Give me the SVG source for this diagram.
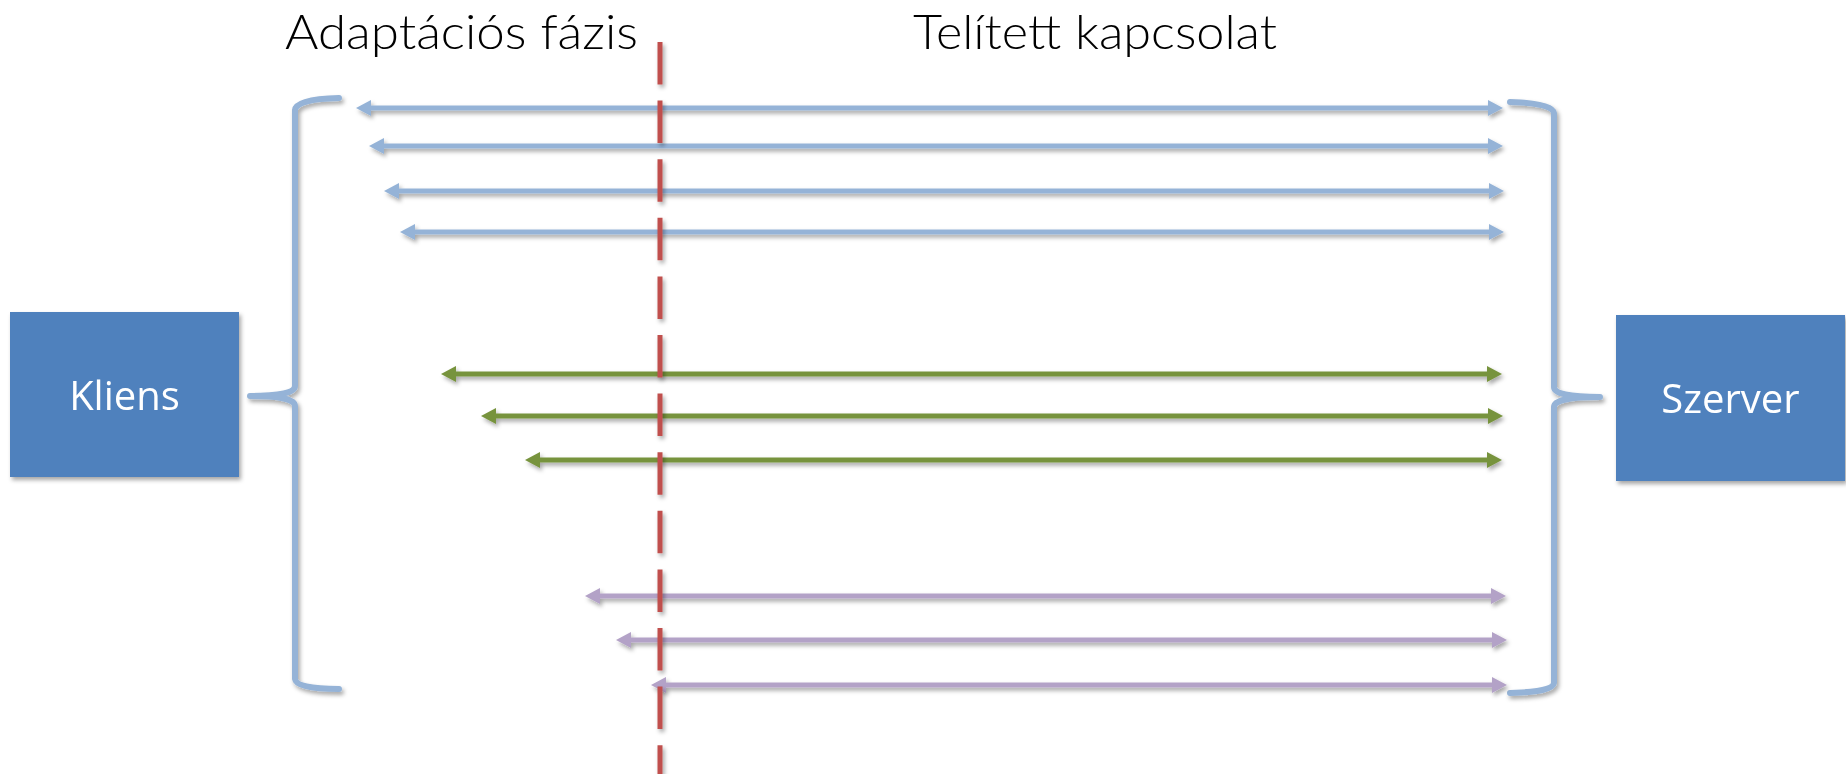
<svg xmlns="http://www.w3.org/2000/svg" width="1846" height="774" viewBox="0 0 1846 774">
  <style>
    .title { font-family: Lato, "Open Sans", "Liberation Sans", sans-serif; font-weight: 300; font-size: 47px; fill: #000; }
    .box { fill: #4F81BD; }
    .label { font-family: "Open Sans", "Liberation Sans", sans-serif; font-size: 40px; fill: #fff; text-anchor: middle; }
    .brace { fill: none; stroke: #95B3D7; stroke-width: 6; stroke-linecap: round; stroke-linejoin: round; }
    .conn { stroke-width: 5; fill: none; }
    .blue { stroke: #95B3D7; }
    .green { stroke: #77933C; }
    .purple { stroke: #B3A2C7; }
    .phase { stroke: #C0504D; stroke-width: 5; stroke-dasharray: 42.5 16.1; fill: none; }
  </style>
  <defs>
    <!-- soft drop shadow; user-space region so zero-width lines keep it -->
    <filter id="shadow" filterUnits="userSpaceOnUse" x="0" y="0" width="1846" height="774">
      <feDropShadow dx="2" dy="3" stdDeviation="2" flood-color="#000" flood-opacity="0.35"/>
    </filter>
    <marker id="head-blue" markerUnits="userSpaceOnUse" markerWidth="15" markerHeight="16" viewBox="0 0 15 16" refX="3" refY="8" orient="auto-start-reverse">
      <path d="M0,0 L15,8 L0,16 z" fill="#95B3D7"/>
    </marker>
    <marker id="head-green" markerUnits="userSpaceOnUse" markerWidth="15" markerHeight="16" viewBox="0 0 15 16" refX="3" refY="8" orient="auto-start-reverse">
      <path d="M0,0 L15,8 L0,16 z" fill="#77933C"/>
    </marker>
    <marker id="head-purple" markerUnits="userSpaceOnUse" markerWidth="15" markerHeight="16" viewBox="0 0 15 16" refX="3" refY="8" orient="auto-start-reverse">
      <path d="M0,0 L15,8 L0,16 z" fill="#B3A2C7"/>
    </marker>
  </defs>

  <rect width="1846" height="774" fill="#fff"/>

  <!-- phase headings -->
  <text class="title" x="285" y="49" textLength="353" lengthAdjust="spacingAndGlyphs">Adaptációs fázis</text>
  <text class="title" x="913" y="49" textLength="364" lengthAdjust="spacingAndGlyphs">Telített kapcsolat</text>

  <!-- end points -->
  <g id="kliens" filter="url(#shadow)">
    <rect class="box" x="10" y="312" width="229" height="165"/>
    <text class="label" x="124.5" y="410">Kliens</text>
  </g>
  <g id="szerver" filter="url(#shadow)">
    <rect class="box" x="1616" y="315" width="229" height="166"/>
    <text class="label" x="1730.5" y="413">Szerver</text>
  </g>

  <!-- braces grouping the connections -->
  <g id="brace-left" filter="url(#shadow)">
    <path class="brace" d="M339,98 Q296,99 295,110 L295,386 Q295,396 250,396 Q295,396 295,406 L295,679 Q296,689 339,689"/>
  </g>
  <g id="brace-right" filter="url(#shadow)">
    <path class="brace" d="M1510,102 Q1553,103 1554,113 L1554,387 Q1554,397 1600,397 Q1554,397 1554,407 L1554,683 Q1553,692 1510,693"/>
  </g>

  <!-- connections -->
  <g id="connectors" filter="url(#shadow)">
    <g class="conn blue" marker-start="url(#head-blue)" marker-end="url(#head-blue)">
      <line x1="368" y1="108" x2="1491" y2="108"/>
      <line x1="381" y1="146" x2="1491" y2="146"/>
      <line x1="396" y1="191" x2="1492" y2="191"/>
      <line x1="412" y1="232" x2="1492" y2="232"/>
    </g>
    <g class="conn green" marker-start="url(#head-green)" marker-end="url(#head-green)">
      <line x1="453" y1="374" x2="1490" y2="374"/>
      <line x1="493" y1="416" x2="1491" y2="416"/>
      <line x1="537" y1="460" x2="1490" y2="460"/>
    </g>
    <g class="conn purple" marker-start="url(#head-purple)" marker-end="url(#head-purple)">
      <line x1="597" y1="596" x2="1494" y2="596"/>
      <line x1="628" y1="640" x2="1495" y2="640"/>
      <line x1="663" y1="685" x2="1495" y2="685"/>
    </g>
  </g>

  <!-- phase boundary -->
  <g id="phase-boundary" filter="url(#shadow)">
    <line class="phase" x1="660" y1="42" x2="660" y2="774"/>
  </g>
</svg>
